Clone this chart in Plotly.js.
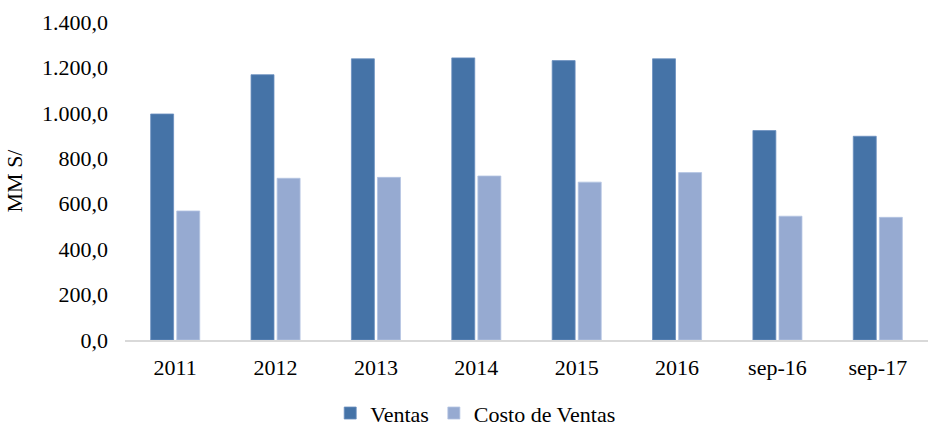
<!DOCTYPE html>
<html>
<head>
<meta charset="utf-8">
<script src="https://cdn.plot.ly/plotly-3.0.1.min.js"></script>
<style>
  html, body { margin: 0; padding: 0; background: #fff; }
  #chart { width: 942px; height: 426px; }
</style>
</head>
<body>
<div id="chart"></div>
<script>
// Periods and values (MM S/)
const periods = ['2011', '2012', '2013', '2014', '2015', '2016', 'sep-16', 'sep-17'];
const ventas = [995, 1168, 1238, 1242, 1230, 1238, 922, 897];
const costoVentas = [568, 712, 716, 722, 695, 737, 545, 540];

const font = 'Liberation Serif, Times New Roman, serif';

const traceVentas = {
    x: periods,
    y: ventas,
    name: 'Ventas',
    type: 'bar',
    marker: { color: '#4573a7', line: { color: '#6b8fbf', width: 0.8 } },
};

const traceCosto = {
    x: periods,
    y: costoVentas,
    name: 'Costo de Ventas',
    type: 'bar',
    marker: { color: '#96aad1', line: { color: '#b4c4e2', width: 0.8 } },
};

const layout = {
    width: 942,
    height: 426,
    margin: { l: 125, r: 14, t: 22, b: 86 },
    paper_bgcolor: '#fff',
    plot_bgcolor: '#fff',
    separators: ',.',
    barmode: 'group',
    bargap: 0.48,
    bargroupgap: 0.12,
    font: { family: font, size: 22, color: '#000' },
    showlegend: true,
    legend: {
        orientation: 'h',
        xref: 'container',
        yref: 'container',
        x: 0.505,
        xanchor: 'center',
        y: 0.03,
        yanchor: 'middle',
        font: { family: font, size: 22, color: '#000' },
        itemwidth: 30,
        tracegroupgap: 0,
    },
    xaxis: {
        type: 'category',
        showline: true,
        linecolor: '#d9d9d9',
        linewidth: 1.5,
        ticks: '',
        ticklabelstandoff: 7,
        showgrid: false,
        zeroline: false,
    },
    yaxis: {
        range: [0, 1400],
        dtick: 200,
        tickformat: ',.1f',
        showline: false,
        showgrid: false,
        zeroline: false,
        ticks: '',
        ticklabelstandoff: 16,
        automargin: false,
        title: { text: 'MM S/', font: { family: font, size: 22 }, standoff: 13 },
    },
};

Plotly.newPlot('chart', [traceVentas, traceCosto], layout, { displayModeBar: false, staticPlot: true });
</script>
</body>
</html>
